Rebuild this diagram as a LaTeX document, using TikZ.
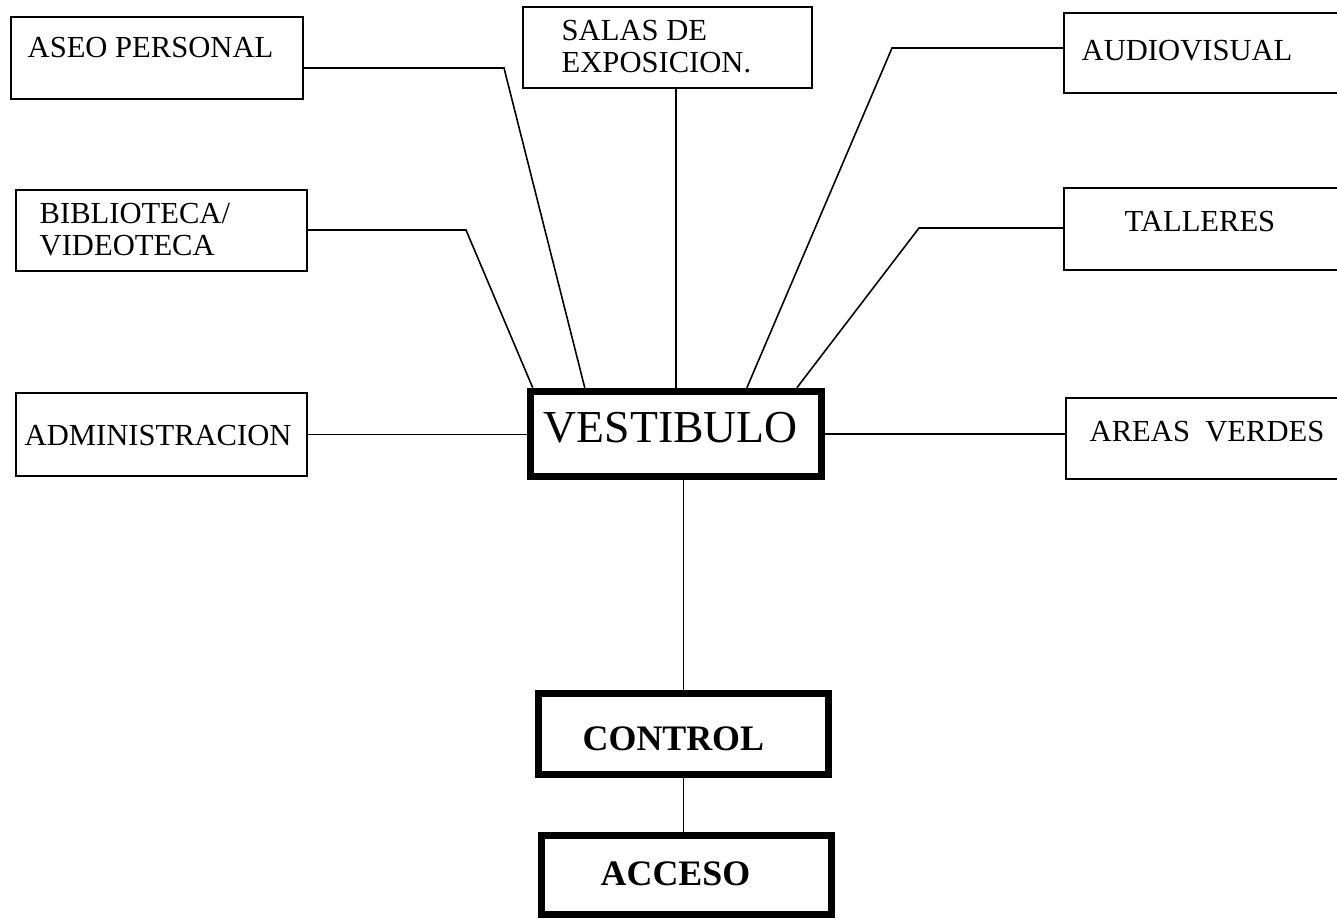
\documentclass[tikz,border=0pt]{standalone}
\usepackage{fontspec}
\setmainfont{Liberation Serif}
\usepackage{tikz}
\usetikzlibrary{positioning, calc}

\begin{document}
\begin{tikzpicture}[
    x=0.01cm, y=-0.01cm,
    area/.style={draw, rectangle, line width=0.45pt, inner sep=0pt},
    core/.style={draw, rectangle, line width=2.1pt, inner sep=0pt},
    areatext/.style={anchor=north west, inner sep=0pt, align=left, font=\fontsize{8.7pt}{9.1pt}\selectfont},
    coretext/.style={anchor=north west, inner sep=0pt, font=\fontsize{10.2pt}{12pt}\selectfont\bfseries},
    link/.style={line width=0.45pt}
]
    \useasboundingbox (0,0) rectangle (1337,919);

    % Hall, control and entrance
    \node[core, minimum width=2.91cm, minimum height=0.85cm] (vest) at (676,434) {};
    \node[anchor=north west, inner sep=0pt, font=\fontsize{13pt}{15pt}\selectfont] (vest-txt) at (543,412) {VESTIBULO};
    \node[core, minimum width=2.90cm, minimum height=0.81cm] (control) at (683.5,734) {};
    \node[coretext] (control-txt) at (582,726) {CONTROL};
    \node[core, minimum width=2.90cm, minimum height=0.79cm] (acceso) at (686.5,875) {};
    \node[coretext] (acceso-txt) at (600,861) {ACCESO};

    % Areas on the left
    \node[area, minimum width=2.92cm, minimum height=0.82cm] (aseo) at (157,58) {};
    \node[areatext] (aseo-txt) at (27,37) {ASEO PERSONAL};
    \node[area, minimum width=2.91cm, minimum height=0.81cm] (biblio) at (161.5,230.5) {};
    \node[areatext] (biblio-txt) at (39,203) {BIBLIOTECA/\\VIDEOTECA};
    \node[area, minimum width=2.91cm, minimum height=0.83cm] (admin) at (161.5,434.5) {};
    \node[areatext] (admin-txt) at (24,425) {ADMINISTRACION};

    % Areas on top and on the right
    \node[area, minimum width=2.89cm, minimum height=0.81cm] (salas) at (667.5,47.5) {};
    \node[areatext] (salas-txt) at (561,20) {SALAS DE\\EXPOSICION.};
    \node[area, minimum width=3.36cm, minimum height=0.80cm] (audio) at (1232,53) {};
    \node[areatext] (audio-txt) at (1081,40) {AUDIOVISUAL};
    \node[area, minimum width=3.36cm, minimum height=0.82cm] (talleres) at (1232,229) {};
    \node[areatext] (talleres-txt) at (1124,211) {TALLERES};
    \node[area, minimum width=3.34cm, minimum height=0.81cm] (verdes) at (1233,438.5) {};
    \node[areatext] (verdes-txt) at (1089,421) {AREAS\ \ VERDES};

    % Bends of the links
    \coordinate (aseo-k) at (504,68);
    \coordinate (biblio-k) at (466,230);
    \coordinate (audio-k) at (892,48);
    \coordinate (talleres-k) at (919,228);

    % Links into the hall
    \draw[link] (aseo.east |- aseo-k) -- (aseo-k) -- ([xshift=0.58cm]vest.north west);
    \draw[link] (biblio.east |- biblio-k) -- (biblio-k) -- ([xshift=0.06cm]vest.north west);
    \draw[link] (salas.south -| vest.north) -- (vest.north);
    \draw[link] (audio.west |- audio-k) -- (audio-k) -- ([xshift=2.20cm]vest.north west);
    \draw[link] (talleres.west |- talleres-k) -- (talleres-k) -- ([xshift=2.70cm]vest.north west);
    \draw[link] (admin.east) -- (admin.east -| vest.west);
    \draw[link] (vest.east) -- (vest.east -| verdes.west);

    % Hall to entrance
    \draw[link] (vest.south -| control.north) -- (control.north);
    \draw[link] (control.south) -- (control.south |- acceso.north);

\end{tikzpicture}
\end{document}
